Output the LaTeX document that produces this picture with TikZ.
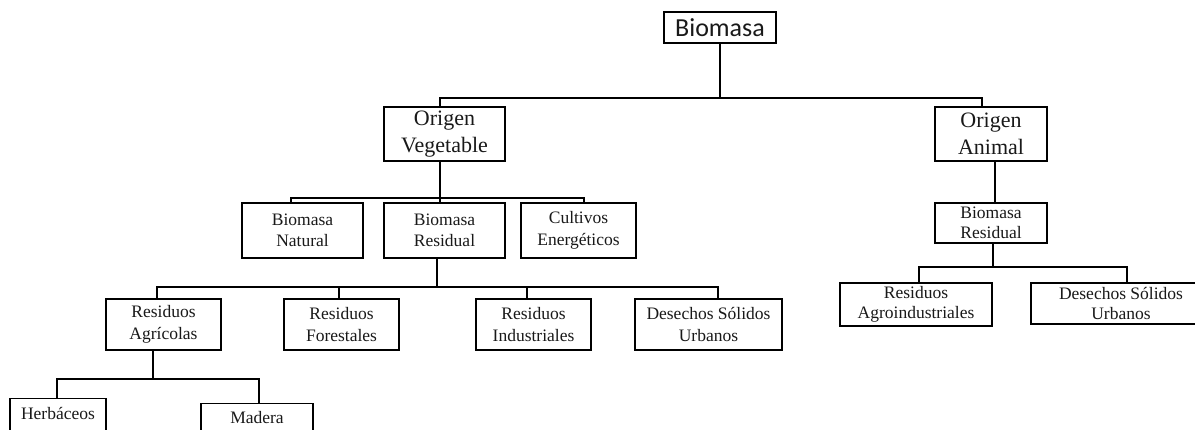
\documentclass[tikz,border=0pt]{standalone}
\usepackage{fontspec}
\setmainfont{Liberation Serif}
\newfontfamily\calib{Carlito}
\begin{document}
\begin{tikzpicture}[x=1pt,y=-1pt,
  box/.style={draw, line width=1.4pt, align=center, inner sep=0pt, text=black!90},
  big/.style={box, font=\fontsize{22}{27.5}\selectfont},
  small/.style={box, font=\fontsize{17.5}{21.5}\selectfont},
  tight/.style={box, font=\fontsize{17.5}{20.5}\selectfont},
  conn/.style={line width=1.4pt}]
\useasboundingbox (0,0) rectangle (1195,430);
\clip (0,0) rectangle (1195,430);
% level 0
\node[box, font=\calib\fontsize{26}{30}\selectfont, minimum width=112, minimum height=31] (bio) at (720,27.5) {Biomasa};
% level 1
\node[big, minimum width=121, minimum height=54] (ov) at (444.5,134) {Origen\\Vegetable};
\node[big, minimum width=112, minimum height=54] (oa) at (991,134) {Origen\\Animal};
% level 2 left
\node[small, minimum width=121, minimum height=55] (bn) at (302.5,230.5) {Biomasa\\Natural};
\node[small, minimum width=121, minimum height=55] (br) at (444.5,230.5) {Biomasa\\Residual};
\node[small, minimum width=115, minimum height=55] (ce) at (578.5,230.5) {Cultivos\\Energéticos};
% level 3 left
\node[small, minimum width=115, minimum height=51] (ra) at (163.5,324.5) {Residuos\\Agrícolas};
\node[small, minimum width=115, minimum height=51] (rf) at (341.5,324.5) {Residuos\\Forestales};
\node[small, minimum width=115, minimum height=51] (ri) at (533.5,324.5) {Residuos\\Industriales};
\node[small, minimum width=147, minimum height=51] (ds) at (708.5,324.5) {Desechos Sólidos\\Urbanos};
% level 4 left
\node[small, anchor=north, minimum width=96, text height=21, text depth=25] (he) at (58,398) {Herbáceos};
\node[small, anchor=north, minimum width=112, text height=20, text depth=25] (md) at (257,403) {Madera};
% right branch
\node[tight, minimum width=112, minimum height=40] (br2) at (991,223) {Biomasa\\Residual};
\node[tight, minimum width=152, minimum height=43] (rag) at (916,304.5) {Residuos\\Agroindustriales};
\node[tight, minimum width=180, minimum height=41] (dsr) at (1121,303.5) {Desechos Sólidos\\Urbanos};
% connectors
\coordinate (h1) at (720,98);
\coordinate (h2) at (440,198);
\coordinate (h3) at (437,287);
\coordinate (h4) at (153,379);
\coordinate (h5) at (993,267);
\draw[conn] (bio.south) -- (h1);
\draw[conn] ([xshift=-4.5pt]ov.north) |- (h1);
\draw[conn] ([xshift=-9pt]oa.north) |- (h1);
\draw[conn] ([xshift=-4.5pt]ov.south) -- (h2);
\draw[conn] ([xshift=-11.5pt]bn.north) |- (h2);
\draw[conn] ([xshift=-4.5pt]br.north) -- (h2);
\draw[conn] ([xshift=5.5pt]ce.north) |- (h2);
\draw[conn] ([xshift=-7.5pt]br.south) -- (h3);
\draw[conn] ([xshift=-6.5pt]ra.north) |- (h3);
\draw[conn] ([xshift=-2.5pt]rf.north) |- (h3);
\draw[conn] ([xshift=-6.5pt]ri.north) |- (h3);
\draw[conn] ([xshift=9.5pt]ds.north) |- (h3);
\draw[conn] ([xshift=-10.5pt]ra.south) -- (h4);
\draw[conn] ([xshift=-1pt]he.north) |- (h4);
\draw[conn] ([xshift=2pt]md.north) |- (h4);
\draw[conn] ([xshift=4pt]oa.south) -- ([xshift=4pt]br2.north);
\draw[conn] ([xshift=2pt]br2.south) -- (h5);
\draw[conn] ([xshift=3pt]rag.north) |- (h5);
\draw[conn] ([xshift=6pt]dsr.north) |- (h5);
\end{tikzpicture}
\end{document}
